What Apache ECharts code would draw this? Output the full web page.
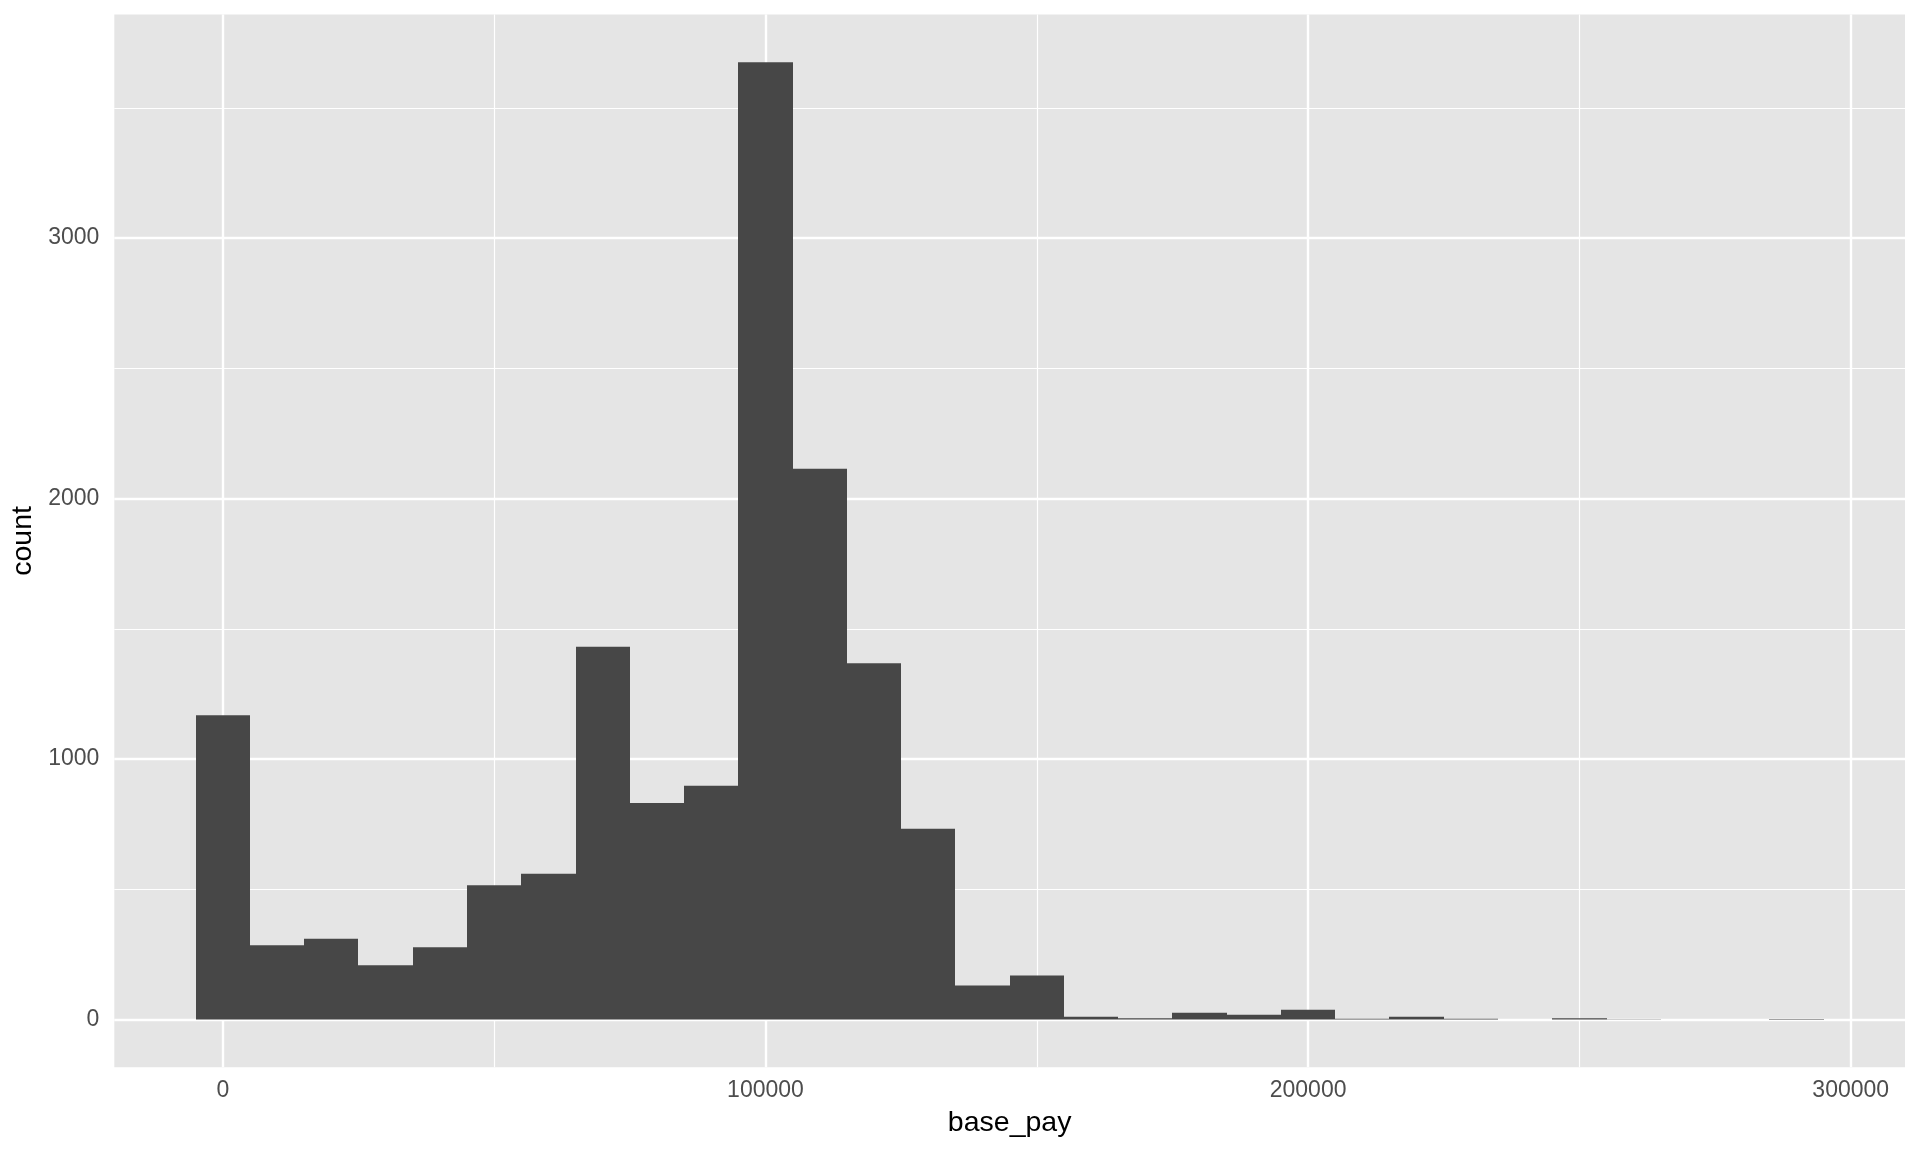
<!DOCTYPE html>
<html>
<head>
<meta charset="utf-8">
<script src="https://cdn.jsdelivr.net/npm/echarts@6/dist/echarts.min.js"></script>
<style>
html,body{margin:0;padding:0;background:#fff;}
#chart{width:1920px;height:1152px;}
</style>
</head>
<body>
<div id="chart"></div>
<script>
// ---- data ----
const binCenters = [0, 10000, 20000, 30000, 40000, 50000, 60000, 70000, 80000, 90000,
  100000, 110000, 120000, 130000, 140000, 150000, 160000, 170000, 180000, 190000,
  200000, 210000, 220000, 230000, 240000, 250000, 260000, 270000, 280000, 290000];
const counts = [1168, 285, 310, 208, 277, 515, 559, 1431, 831, 897,
  3675, 2115, 1368, 732, 130, 169, 10, 5, 26, 18,
  37, 3, 10, 3, 0, 5, 1, 0, 0, 2];
const binWidth = 10000;
const xTickValues = [0, 100000, 200000, 300000];
const xMinorValues = [50000, 150000, 250000];
const yTickValues = [0, 1000, 2000, 3000];
const yMinorValues = [500, 1500, 2500, 3500];
const xTitle = 'base_pay';
const yTitle = 'count';

// ---- build ----
const barData = binCenters.map((c, i) => [c - binWidth / 2, c + binWidth / 2, counts[i]]);
const xLo = binCenters[0] - binWidth / 2, xHi = binCenters[binCenters.length - 1] + binWidth / 2;
const xPad = (xHi - xLo) * 0.05;
const yMaxData = Math.max(...counts);
const yPad = yMaxData * 0.05;

const FONT = '"Liberation Sans", Arial, Helvetica, sans-serif';
const chart = echarts.init(document.getElementById('chart'), null, {renderer: 'canvas'});

const gridLines = [];
xTickValues.forEach(v => gridLines.push({xAxis: v, lineStyle: {width: 2.4}}));
yTickValues.forEach(v => gridLines.push({yAxis: v, lineStyle: {width: 2.4}}));
xMinorValues.forEach(v => gridLines.push({xAxis: v, lineStyle: {width: 1.2}}));
yMinorValues.forEach(v => gridLines.push({yAxis: v, lineStyle: {width: 1.2}}));

chart.setOption({
  animation: false,
  backgroundColor: '#ffffff',
  textStyle: {fontFamily: FONT},
  grid: {
    left: 114.3, right: 15, top: 14.5, bottom: 84.7,
    show: true, backgroundColor: '#E5E5E5', borderWidth: 0,
    containLabel: false,
    outerBoundsMode: 'none'
  },
  xAxis: {
    type: 'value',
    min: xLo - xPad, max: xHi + xPad,
    name: xTitle, nameLocation: 'middle', nameGap: 41,
    nameTextStyle: {color: '#000000', fontSize: 28.5, fontFamily: FONT},
    axisLine: {show: false},
    axisTick: {show: true, customValues: xTickValues, length: 7, lineStyle: {color: '#333333', width: 2}},
    axisLabel: {show: true, customValues: xTickValues, color: '#4D4D4D', fontSize: 23, fontFamily: FONT,
      margin: 12, formatter: v => String(v)},
    splitLine: {show: false}
  },
  yAxis: {
    type: 'value',
    min: -yPad, max: yMaxData + yPad,
    name: yTitle, nameLocation: 'middle', nameGap: 70, nameRotate: 90,
    nameTextStyle: {color: '#000000', fontSize: 28.5, fontFamily: FONT},
    axisLine: {show: false},
    axisTick: {show: true, customValues: yTickValues, length: 7, lineStyle: {color: '#333333', width: 2}},
    axisLabel: {show: true, customValues: yTickValues, color: '#4D4D4D', fontSize: 23, fontFamily: FONT,
      margin: 15, formatter: v => String(v)},
    splitLine: {show: false}
  },
  series: [
    {
      type: 'line',
      data: [],
      silent: true,
      z: 1,
      markLine: {
        silent: true,
        z: 1,
        symbol: ['none', 'none'],
        label: {show: false},
        emphasis: {disabled: true},
        lineStyle: {color: '#ffffff', type: 'solid'},
        data: gridLines,
        animation: false
      }
    },
    {
      type: 'custom',
      z: 5,
      silent: true,
      data: barData,
      encode: {x: [0, 1], y: 2},
      renderItem: function (params, api) {
        const p0 = api.coord([api.value(0), api.value(2)]);
        const p1 = api.coord([api.value(1), 0]);
        const x0 = Math.round(p0[0]), x1 = Math.round(p1[0]);
        return {
          type: 'rect',
          shape: {x: x0, y: p0[1], width: x1 - x0, height: p1[1] - p0[1]},
          style: {fill: '#474747', stroke: null}
        };
      }
    }
  ]
});
</script>
</body>
</html>
